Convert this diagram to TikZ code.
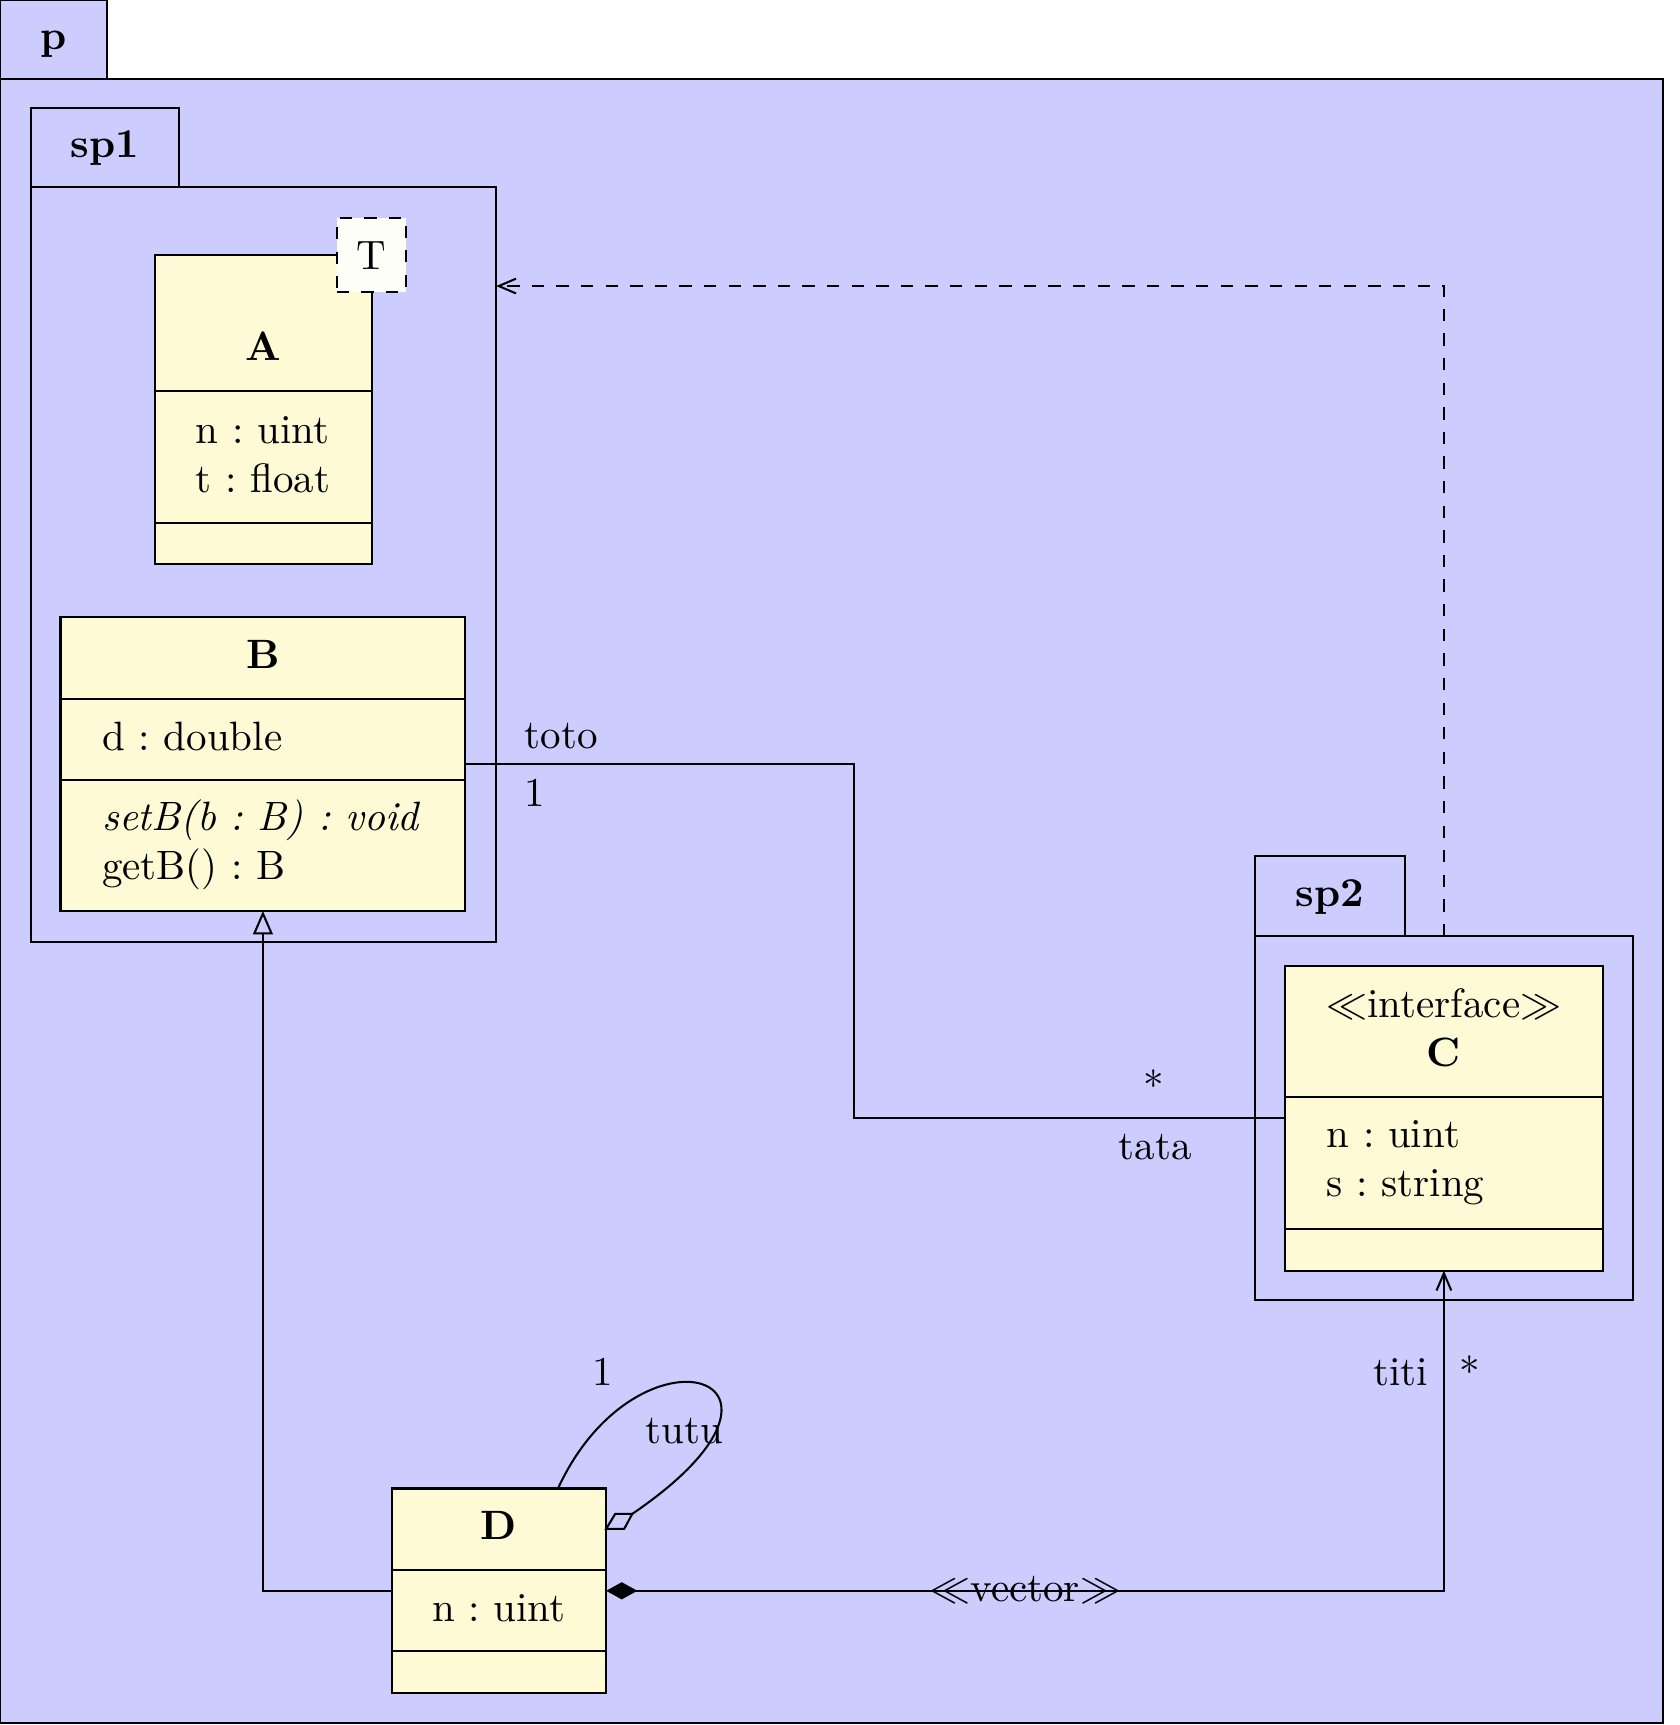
\documentclass[tikz,border=0pt]{standalone}
\usetikzlibrary{arrows.meta,fit}
\definecolor{pkgfill}{RGB}{204,204,255}
\definecolor{clsfill}{RGB}{255,250,214}
\definecolor{tplfill}{RGB}{253,254,248}
\begin{document}
\frenchspacing
\begin{tikzpicture}[x=0.26829pt,y=-0.26829pt,line width=0.5pt,
  box/.style={inner sep=0pt,outer sep=0pt},
  pkg/.style={box,draw=black,fill=pkgfill},
  cpart/.style={box,draw=black,fill=clsfill},
  whole/.style={box},
  txt/.style={inner sep=0pt},
  ltxt/.style={inner sep=0pt,align=left,anchor=west},
  conn/.style={draw=black,line width=0.5pt},
  opentip/.style={-{Straight Barb[length=4.2pt,width=3.6pt]}},
]
\useasboundingbox (0,0) rectangle (1527,1568);
% package p
\node[pkg,fit={(0,72)(1512,1566)}] (p) {};
\node[pkg,fit={(0,0)(97,72)}] (ptab) {};
\node[txt] (pname) at (48.5,40) {\textbf{p}};
% package sp1
\node[pkg,fit={(28,170)(451,856)}] (sp1) {};
\node[pkg,fit={(28,98)(163,170)}] (sp1tab) {};
\node[txt] (sp1name) at (95.5,135) {\textbf{sp1}};
% class A
\node[cpart,fit={(141,232)(338,355)}] (Ah) {};
\node[cpart,fit={(141,355)(338,475)}] (Aa) {};
\node[cpart,fit={(141,475)(338,513)}] (Ao) {};
\node[whole,fit=(Ah)(Ao)] (A) {};
\node[txt] (Aname) at (239,315) {\textbf{A}};
\node[txt,align=left] (Aattr) at (239,413) {n : uint\\t : float};
\node[box,draw=black,dashed,fill=tplfill,fit={(306,198)(369,265)}] (T) {};
\node[txt] (Tname) at (337.5,232) {T};
% class B
\node[cpart,fit={(55,561)(423,635)}] (Bh) {};
\node[cpart,fit={(55,635)(423,709)}] (Ba) {};
\node[cpart,fit={(55,709)(423,828)}] (Bo) {};
\node[whole,fit=(Bh)(Bo)] (B) {};
\node[txt] (Bname) at (239,595) {\textbf{B}};
\node[ltxt] (Battr) at (92,669) {d : double};
\node[ltxt] (Bops) at (92,768) {\textit{setB(b : B) : void}\\getB() : B};
% package sp2
\node[pkg,fit={(1141,851)(1484,1182)}] (sp2) {};
\node[pkg,fit={(1141,778)(1277,851)}] (sp2tab) {};
\node[txt] (sp2name) at (1209,815.5) {\textbf{sp2}};
% class C
\node[cpart,fit={(1168,878)(1457,997)}] (Ch) {};
\node[cpart,fit={(1168,997)(1457,1117)}] (Ca) {};
\node[cpart,fit={(1168,1117)(1457,1155)}] (Co) {};
\node[whole,fit=(Ch)(Co)] (C) {};
\node[txt,align=center] (Cname) at (1312.5,934) {$\ll$interface$\gg$\\\textbf{C}};
\node[ltxt] (Cattr) at (1205,1057) {n : uint\\s : string};
% class D
\node[cpart,fit={(356,1353)(551,1427)}] (Dh) {};
\node[cpart,fit={(356,1427)(551,1501)}] (Da) {};
\node[cpart,fit={(356,1501)(551,1539)}] (Do) {};
\node[whole,fit=(Dh)(Do)] (D) {};
\node[txt] (Dname) at (453.5,1387) {\textbf{D}};
\node[txt] (Dattr) at (453.5,1462) {n : uint};
% dependency sp2 -> sp1
\coordinate (ydep) at (0,260);
\coordinate (depbend) at (C.north |- ydep);
\draw[conn,dashed,opentip] (sp2.north -| C.north) -- (depbend) -- (sp1.east |- depbend);
% association B -- C
\coordinate (bcx) at (776,850);
\draw[conn] (B.east) -| (bcx) |- (C.west);
\node[txt] (toto) at (510,669) {toto};
\node[txt] (oneB) at (486,721) {1};
\node[txt] (starC) at (1049,986) {*};
\node[txt] (tata) at (1050,1043) {tata};
% inheritance D -> B
\draw[conn,-{Triangle[open,length=5.7pt,width=4.8pt]}] (D.west) -| (B.south);
% composition D -> C
\draw[conn,{Diamond[length=7.6pt,width=4.2pt]}-{Straight Barb[length=4.2pt,width=3.6pt]}] (D.east) -| (C.south);
\node[txt] (vec) at (932,1445) {$\ll$vector$\gg$};
\node[txt] (titi) at (1273,1247) {titi};
\node[txt] (starT) at (1336,1246) {*};
% self aggregation on D
\coordinate (aggtip) at (D.30);
\path (aggtip) ++(23.7,-13.6) coordinate (aggback);
\draw[conn] (aggtip) -- ++(16.4,0) -- (aggback) -- ++(-15.5,0) -- cycle;
\draw[conn] (D.60) .. controls (580,1195) and (760,1250) .. (aggback);
\node[txt] (oneD) at (548,1247) {1};
\node[txt] (tutu) at (622,1301) {tutu};
\end{tikzpicture}
\end{document}
